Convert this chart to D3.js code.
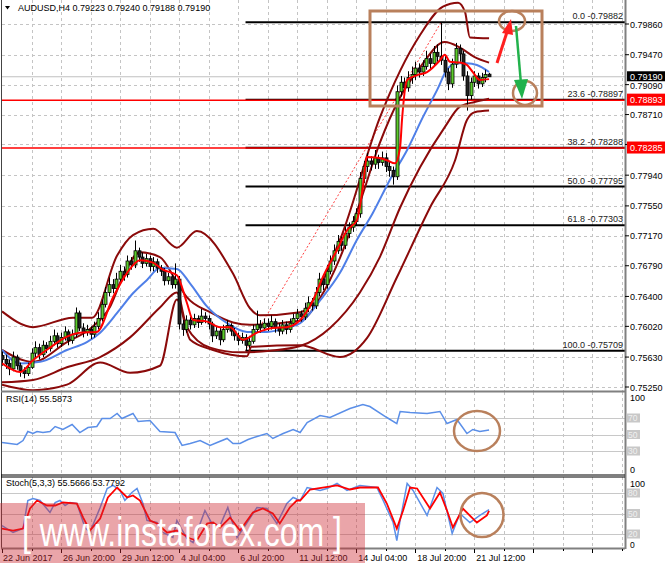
<!DOCTYPE html>
<html><head><meta charset="utf-8">
<script src="https://cdn.jsdelivr.net/npm/d3@7"></script>
<style>body{margin:0;background:#fff;} svg{display:block;font-family:"Liberation Sans",Arial,sans-serif;}</style>
</head><body><svg id="c" width="665" height="568"></svg>
<script>
// ---------------- DATA ----------------
const openP=[0.7565,0.7560,0.7555,0.7548,0.7563,0.7552,0.7546,0.7542,0.7550,0.7568,0.7575,0.7566,0.7578,
0.7574,0.7583,0.7590,0.7580,0.7588,0.7595,0.7584,0.7592,0.7619,0.7600,0.7594,0.7598,0.7592,
0.7602,0.7612,0.7630,0.7645,0.7655,0.7650,0.7662,0.7672,0.7668,0.7685,
0.7680,0.7698,0.7690,0.7682,0.7688,0.7678,0.7684,0.7676,0.7672,0.7660,
0.7665,0.7655,0.7662,0.7605,0.7598,0.7610,0.7604,0.7612,0.7607,0.7615,
0.7612,0.7605,0.7590,0.7596,0.7585,0.7598,0.7603,0.7596,0.7590,0.7584,
0.7588,0.7578,0.7583,0.7598,0.7604,0.7600,0.7606,0.7602,0.7608,0.7600,
0.7596,0.7604,0.7598,0.7606,0.7612,0.7618,0.7614,0.7625,0.7632,0.7628,
0.7645,0.7662,0.7655,0.7672,0.7685,0.7698,0.7710,0.7705,0.7720,0.7728,
0.7735,0.7745,0.7790,0.7805,0.7812,0.7808,0.7816,0.7810,0.7816,0.7805,
0.7800,0.7792,0.7900,0.7912,0.7905,0.7918,0.7922,0.7930,0.7925,0.7932,
0.7942,0.7936,0.7950,0.7945,0.7940,0.7925,0.7910,0.7935,0.7955,0.7948,
0.7920,0.7895,0.7912,0.7920,0.7910,0.7918,0.79223];
const closeP=[0.7560,0.7555,0.7548,0.7563,0.7552,0.7546,0.7542,0.7550,0.7568,0.7575,0.7566,0.7578,0.7574,
0.7583,0.7590,0.7580,0.7588,0.7595,0.7584,0.7592,0.7619,0.7600,0.7594,0.7598,0.7592,0.7602,
0.7612,0.7630,0.7645,0.7655,0.7650,0.7662,0.7672,0.7668,0.7685,0.7680,
0.7698,0.7690,0.7682,0.7688,0.7678,0.7684,0.7676,0.7672,0.7660,0.7665,
0.7655,0.7662,0.7605,0.7598,0.7610,0.7604,0.7612,0.7607,0.7615,0.7612,
0.7605,0.7590,0.7596,0.7585,0.7598,0.7603,0.7596,0.7590,0.7584,0.7588,
0.7578,0.7583,0.7598,0.7604,0.7600,0.7606,0.7602,0.7608,0.7600,0.7596,
0.7604,0.7598,0.7606,0.7612,0.7618,0.7614,0.7625,0.7632,0.7628,0.7645,
0.7662,0.7655,0.7672,0.7685,0.7698,0.7710,0.7705,0.7720,0.7728,0.7735,
0.7745,0.7790,0.7805,0.7812,0.7808,0.7816,0.7810,0.7816,0.7805,0.7800,
0.7792,0.7900,0.7912,0.7905,0.7918,0.7922,0.7930,0.7925,0.7932,0.7942,
0.7936,0.7950,0.7945,0.7940,0.7925,0.7910,0.7935,0.7955,0.7948,0.7920,
0.7895,0.7912,0.7920,0.7910,0.7918,0.7922,0.79190];
const highP=[0.7570,0.7566,0.7560,0.7570,0.7566,0.7556,0.7550,0.7556,0.7574,0.7583,0.7580,0.7584,0.7582,
0.7590,0.7598,0.7594,0.7594,0.7602,0.7598,0.7598,0.7626,0.7622,0.7606,0.7604,0.7602,0.7608,
0.7620,0.7636,0.7652,0.7664,0.7662,0.7670,0.7680,0.7678,0.7692,0.7690,
0.7711,0.7702,0.7696,0.7694,0.7692,0.7690,0.7688,0.7680,0.7676,0.7670,
0.7668,0.7682,0.7666,0.7610,0.7616,0.7614,0.7618,0.7616,0.7624,0.7620,
0.7616,0.7608,0.7602,0.7600,0.7604,0.7610,0.7606,0.7600,0.7594,0.7594,
0.7592,0.7590,0.7604,0.7622,0.7610,0.7612,0.7612,0.7616,0.7612,0.7606,
0.7610,0.7608,0.7612,0.7618,0.7624,0.7622,0.7632,0.7640,0.7638,0.7652,
0.7670,0.7668,0.7680,0.7692,0.7706,0.7718,0.7716,0.7728,0.7734,0.7742,
0.7752,0.7798,0.7812,0.7822,0.7818,0.7826,0.7820,0.7824,0.7822,0.7812,
0.7805,0.7908,0.7920,0.7918,0.7926,0.7932,0.7938,0.7936,0.7940,0.7952,
0.7948,0.7958,0.7960,0.79882,0.7946,0.7930,0.7942,0.7962,0.7960,0.7952,
0.7926,0.7918,0.7926,0.7924,0.7924,0.7928,0.79240];
const lowP=[0.7552,0.7548,0.7540,0.7545,0.7547,0.7538,0.7536,0.7539,0.7548,0.7562,0.7560,0.7563,0.7568,
0.7570,0.7578,0.7575,0.7576,0.7584,0.7578,0.7580,0.7588,0.7596,0.7588,0.7590,0.7586,0.7588,
0.7598,0.7608,0.7626,0.7640,0.7644,0.7646,0.7656,0.7660,0.7664,0.7674,
0.7676,0.7684,0.7676,0.7678,0.7672,0.7672,0.7670,0.7666,0.7654,0.7655,
0.7650,0.7650,0.7598,0.7590,0.7594,0.7598,0.7600,0.7600,0.7604,0.7606,
0.7598,0.7582,0.7586,0.7578,0.7582,0.7594,0.7590,0.7584,0.7578,0.7580,
0.7571,0.7574,0.7580,0.7594,0.7594,0.7596,0.7596,0.7598,0.7594,0.7590,
0.7592,0.7592,0.7594,0.7602,0.7608,0.7608,0.7610,0.7620,0.7622,0.7624,
0.7640,0.7648,0.7650,0.7668,0.7680,0.7694,0.7698,0.7700,0.7714,0.7722,
0.7730,0.7740,0.7784,0.7798,0.7800,0.7802,0.7802,0.7806,0.7798,0.7792,
0.7782,0.7788,0.7894,0.7896,0.7900,0.7910,0.7915,0.7918,0.7920,0.7928,
0.7928,0.7932,0.7938,0.7934,0.7918,0.7902,0.7905,0.7930,0.7938,0.7914,
0.7876,0.7890,0.7906,0.7904,0.7906,0.7912,0.79188];

// moving averages / bands: [bar index, price]
const maFast=[[0,0.7555],[4.9,0.7544],[8.4,0.7559],[13,0.7575],[17.6,0.7589],[21.1,0.7594],[25.7,0.7595],[30.1,0.7639],[33.9,0.7670],[37.4,0.7686],[40.9,0.7683],[43.6,0.7674],[47.4,0.7667],[50.1,0.7632],[51.8,0.7610],[55.6,0.7608],[59.1,0.7601],[61.8,0.7601],[65.3,0.7585],[69.1,0.7594],[73.4,0.7600],[77.2,0.7601],[80.8,0.7610],[84.3,0.7635],[87,0.7665],[90.8,0.7699],[93.5,0.7724],[96.2,0.7737],[97.8,0.7779],[98.9,0.7817],[101.9,0.7816],[104.3,0.7813],[106.5,0.7809],[107.9,0.7830],[108.4,0.7864],[109.8,0.7915],[112.5,0.7921],[115.2,0.7925],[118.7,0.7940],[120,0.7947],[121.4,0.7938],[124.1,0.7937],[126,0.7934],[127.6,0.7925],[129.5,0.7915],[132,0.7916]];
const maSlow=[[0,0.7572],[4.9,0.7555],[10.3,0.7557],[17.6,0.7572],[23,0.7582],[26.6,0.7594],[31.2,0.7619],[35.5,0.7644],[39.3,0.7661],[42.8,0.7676],[47.4,0.7675],[50.9,0.7657],[55.6,0.7627],[61,0.7606],[66.4,0.7595],[71.8,0.7595],[77.2,0.7600],[80.8,0.7606],[86.2,0.7635],[91.6,0.7670],[96.2,0.7712],[100.5,0.7746],[105.1,0.7788],[109.8,0.7826],[114.1,0.7868],[117.9,0.7902],[120.6,0.7928],[123.3,0.7936],[126,0.7936],[128.7,0.7934],[132,0.7925]];
const bandOuterUp=[[0,0.7621],[8.4,0.7601],[19.2,0.7613],[24.4,0.7613],[31.2,0.7692],[35.5,0.7718],[41,0.7726],[47.4,0.7702],[52.8,0.7723],[62.6,0.7669],[67.2,0.7625],[69.9,0.7616],[80.8,0.7620],[91.6,0.7712],[102.4,0.7867],[113.3,0.7972],[119.5,0.8008],[123.6,0.8013],[125.5,0.8001],[126.8,0.7969],[132,0.7968]];
const bandInnerUp=[[0,0.7572],[8.4,0.7557],[17.6,0.7582],[24.4,0.7601],[29.3,0.7627],[33.3,0.7671],[37.4,0.7696],[42.8,0.7690],[47.4,0.7658],[50.1,0.7639],[56.4,0.7620],[62.6,0.7607],[67.2,0.7604],[80.8,0.7609],[86.2,0.7638],[91.6,0.7689],[97,0.7759],[102.4,0.7835],[107.9,0.7893],[113.3,0.7931],[120,0.7963],[124.1,0.7956],[128.1,0.7944],[132,0.7937]];
const bandInnerLow=[[0,0.7531],[8.4,0.7534],[17.6,0.7550],[26.6,0.7563],[34.7,0.7588],[42.8,0.7626],[47.4,0.7645],[50.1,0.7601],[56.4,0.7575],[64.5,0.7569],[72.6,0.7571],[80.8,0.7577],[88.9,0.7600],[97,0.7645],[102.4,0.7690],[107.9,0.7753],[113.3,0.7804],[120,0.7855],[124.1,0.7881],[128.1,0.7887],[132,0.7891]];
const bandOuterLow=[[0,0.7528],[8.4,0.7521],[17.6,0.7528],[26.6,0.7556],[34.7,0.7543],[42.8,0.7552],[47.4,0.7636],[51,0.7585],[57.2,0.7572],[62,0.7566],[66.4,0.7564],[67.6,0.7576],[80.8,0.7578],[91.6,0.7563],[98.9,0.7587],[107,0.7664],[116,0.7753],[122.8,0.7813],[126,0.7864],[128.1,0.7874],[132,0.7876]];

const rsi=[[0,40.3],[4.1,37.9],[5.7,42.7],[7,53.6],[8.4,51.2],[9.5,53.6],[11.1,52.4],[13,53.6],[14.4,59.7],[16.5,56.1],[19,62.1],[21.1,52.4],[23.3,58.5],[25.7,59.7],[27.1,69.4],[29.3,69.4],[31.2,75.5],[32.5,69.4],[35.5,75.5],[36.9,65.8],[40.1,67],[42.8,53.6],[46.9,52.4],[48.8,36.7],[51,39.1],[53.7,42.7],[56.4,36.7],[58.3,40.3],[61,45.2],[62.6,39.1],[64.5,39.1],[66.7,43.9],[69.1,47.6],[71.8,51.2],[73.4,45.2],[76.2,51.2],[78.9,56.1],[80.8,52.4],[82.7,64.5],[86.2,73],[88.9,70.6],[94.3,81.5],[97.8,86.4],[99.7,83.9],[104.3,70.6],[107,63.3],[107.9,77.9],[110.6,76.7],[115.2,75.5],[118.7,77.9],[120.6,63.3],[123.3,68.2],[126,51.2],[127.6,56.1],[129.5,53.6],[132,55.59]];
const stochK=[[0,32.4],[3,22.2],[5.7,28],[7,69],[8.4,72],[10.3,69],[13,51.5],[14.4,66],[15.7,69],[17.1,61.7],[18.4,66.1],[20.3,64.6],[22.5,29.5],[23.8,22.2],[26.6,58.8],[28.5,86.6],[30.1,91],[32,83.7],[33.3,69],[35.2,80.7],[36.6,86.6],[38.2,64.6],[39.3,39.8],[42,36.8],[43.6,22.2],[46.3,14.9],[47.4,39.8],[50.1,13.4],[51.8,7.5],[55,54.4],[56.9,35.4],[59.1,32.4],[61.2,58.8],[63.7,14.9],[65.9,32.4],[69.1,58.8],[71.8,57.3],[74.5,35.4],[77.2,64.6],[78.9,73.4],[80.8,69],[82.7,88],[86.2,83.7],[88.1,86.6],[90.8,93.9],[93.5,83.7],[97,91],[101.6,88],[103.3,69],[106,36.8],[107,10.5],[107.9,39.8],[109.8,93.9],[111.4,83.7],[115.2,47.1],[117.9,88],[119.5,79.3],[122,20.7],[124.1,50],[126.8,36.8],[129.5,47.1],[132,55.57]];
const stochD=[[0,28],[3,25.1],[5.7,28],[7.6,57.3],[9.5,69],[12.2,61.7],[14.4,61.7],[16.5,66.1],[20.3,64.6],[22,44.1],[23.8,25.1],[26.6,42.7],[28.7,73.4],[31.2,88],[33.9,73.4],[35.5,76.4],[37.4,69],[40.1,39.8],[42,35.4],[44.7,22.2],[47.4,25.1],[51,13.4],[52.8,10.5],[55.6,35.4],[57.2,36.8],[59.1,29.5],[61.8,44.1],[64.5,25.1],[68,51.5],[70.7,57.3],[73.4,50],[75.3,35.4],[78,58.8],[79.9,69],[80.8,69],[83.5,85.1],[90.8,91],[94.3,85.1],[97,88],[101.9,88],[104.3,64.6],[107,28],[108.7,54.4],[110.6,88],[112.5,86.6],[116,57.3],[118.7,80.7],[120.6,54.4],[122.2,29.5],[124.9,57.3],[128.7,36.8],[131.4,47.1],[132,53.78]];

const priceTicks=[0.79860,0.79470,0.79090,0.78710,0.78330,0.77940,0.77550,0.77170,0.76790,0.76400,0.76020,0.75630,0.75250];
const hiddenTickLabels=[0.78330];
const timeLabels=["22 Jun 2017","26 Jun 20:00","29 Jun 12:00","4 Jul 04:00","6 Jul 20:00","11 Jul 12:00","14 Jul 04:00","18 Jul 20:00","21 Jul 12:00"];
const timeLabelBars=[0,16,32,48,64,80,96,112,128];
const fibLevels=["0.0","23.6","38.2","50.0","61.8","100.0"];
const fibPrices=[0.79882,0.78897,0.78288,0.77795,0.77303,0.75709];
const fibStartBar=66, fibHighBar=119;
const redLevels=[0.78893,0.78285];
const bidPrice=0.79190;
const rsiLevels=[70,50,30], stochLevels=[80,50,20];

// ---------------- SCALES ----------------
const svg=d3.select('#c');
const XR=625;
const x=d3.scaleLinear().domain([0,128]).range([2,474.3]);
const y=d3.scaleLinear().domain([0.75250,0.79860]).range([387,24]);
const yR=d3.scaleLinear().domain([0,100]).range([475.75,393.25]);
const yS=d3.scaleLinear().domain([0,100]).range([547.7,479.3]);
const panels=[{id:'pm',t:0,b:391},{id:'pr',t:392,b:475},{id:'ps',t:477,b:548}];
const defs=svg.append('defs');
panels.forEach(p=>defs.append('clipPath').attr('id',p.id).append('rect').attr('x',2).attr('y',p.t).attr('width',XR-2).attr('height',p.b-p.t));

// grids
const gridBars=d3.range(8,170,8);
panels.forEach(p=>{
  svg.append('g').selectAll('line').data(gridBars.filter(b=>x(b)<XR-1)).join('line')
   .attr('x1',d=>Math.round(x(d))+0.5).attr('x2',d=>Math.round(x(d))+0.5).attr('y1',p.t).attr('y2',p.b)
   .attr('stroke','#c4c4c4').attr('stroke-dasharray','3,3');
});
svg.append('g').selectAll('line').data(priceTicks).join('line')
  .attr('x1',2).attr('x2',XR).attr('y1',d=>Math.round(y(d))+0.5).attr('y2',d=>Math.round(y(d))+0.5)
  .attr('stroke','#c4c4c4').attr('stroke-dasharray','3,3');
svg.append('g').selectAll('line').data(rsiLevels).join('line')
  .attr('x1',2).attr('x2',XR).attr('y1',d=>Math.round(yR(d))+0.5).attr('y2',d=>Math.round(yR(d))+0.5).attr('stroke','#c8c8c8');
svg.append('g').selectAll('line').data(stochLevels).join('line')
  .attr('x1',2).attr('x2',XR).attr('y1',d=>Math.round(yS(d))+0.5).attr('y2',d=>Math.round(yS(d))+0.5).attr('stroke','#c8c8c8');

// main panel content
const gm=svg.append('g').attr('clip-path','url(#pm)');
gm.append('line').attr('x1',2).attr('x2',XR).attr('y1',y(bidPrice)).attr('y2',y(bidPrice)).attr('stroke','#c0c0c0');
gm.append('line').attr('x1',x(fibStartBar)).attr('y1',y(fibPrices[5])).attr('x2',x(fibHighBar)).attr('y2',y(fibPrices[0]))
  .attr('stroke','#ff4040').attr('stroke-width',1).attr('stroke-dasharray','2,2');
gm.append('g').selectAll('line').data(fibPrices).join('line')
  .attr('x1',x(fibStartBar)).attr('x2',XR).attr('y1',d=>y(d)).attr('y2',d=>y(d)).attr('stroke','#000').attr('stroke-width',2);
gm.append('g').selectAll('text').data(fibPrices).join('text')
  .attr('x',XR-2).attr('y',d=>y(d)-3).attr('text-anchor','end').attr('font-size',9).attr('fill','#222')
  .text((d,i)=>fibLevels[i]+' -'+d.toFixed(5));
gm.append('g').selectAll('line').data(redLevels).join('line')
  .attr('x1',2).attr('x2',XR).attr('y1',d=>y(d)).attr('y2',d=>y(d)).attr('stroke','#ff0000').attr('stroke-width',1.5);

const lineM=d3.line().x(d=>x(d[0])).y(d=>y(d[1])).curve(d3.curveMonotoneX);
[bandOuterUp,bandInnerUp,bandInnerLow,bandOuterLow].forEach(b=>gm.append('path').attr('d',lineM(b)).attr('fill','none').attr('stroke','#8b0a0a').attr('stroke-width',2));
gm.append('path').attr('d',lineM(maSlow)).attr('fill','none').attr('stroke','#4f7fe8').attr('stroke-width',2);

// candles
const idx=d3.range(closeP.length);
const gc=gm.append('g');
gc.selectAll('line').data(idx).join('line')
  .attr('x1',i=>Math.round(x(i))+0.5).attr('x2',i=>Math.round(x(i))+0.5)
  .attr('y1',i=>y(highP[i])).attr('y2',i=>y(lowP[i])).attr('stroke','#000');
gc.selectAll('rect').data(idx).join('rect')
  .attr('x',i=>Math.round(x(i))-1).attr('width',3)
  .attr('y',i=>y(Math.max(openP[i],closeP[i]))).attr('height',i=>Math.max(1,Math.abs(y(openP[i])-y(closeP[i]))))
  .attr('fill',i=>closeP[i]>=openP[i]?'#5ccc2c':'#222').attr('stroke','#000').attr('stroke-width',0.8);
gm.append('path').attr('d',lineM(maFast)).attr('fill','none').attr('stroke','#ff0000').attr('stroke-width',2);

// annotations
const brown='#b9805c';
gm.append('rect').attr('x',370).attr('y',11).attr('width',172).attr('height',95).attr('fill','none').attr('stroke',brown).attr('stroke-width',3);
gm.append('ellipse').attr('cx',512).attr('cy',21).attr('rx',13).attr('ry',10).attr('fill','none').attr('stroke',brown).attr('stroke-width',2.5);
gm.append('ellipse').attr('cx',525).attr('cy',93).attr('rx',12).attr('ry',12).attr('fill','none').attr('stroke',brown).attr('stroke-width',2.5);
gm.append('line').attr('x1',497).attr('y1',63).attr('x2',507).attr('y2',32).attr('stroke','#ff2020').attr('stroke-width',3);
gm.append('path').attr('d','M511,19 L502,33 L513,35 Z').attr('fill','#ff2020');
gm.append('line').attr('x1',516).attr('y1',26).attr('x2',521).attr('y2',84).attr('stroke','#22b24c').attr('stroke-width',2.5);
gm.append('path').attr('d','M522,99 L514,80 L528,79 Z').attr('fill','#22b24c');

// RSI
const gr=svg.append('g').attr('clip-path','url(#pr)');
gr.append('path').attr('d',d3.line().x(d=>x(d[0])).y(d=>yR(d[1]))(rsi)).attr('fill','none').attr('stroke','#5b8fe8').attr('stroke-width',1.5);
gr.append('ellipse').attr('cx',477).attr('cy',431).attr('rx',23).attr('ry',20).attr('fill','none').attr('stroke',brown).attr('stroke-width',2.5);

// Stoch
const gs=svg.append('g').attr('clip-path','url(#ps)');
gs.append('path').attr('d',d3.line().x(d=>x(d[0])).y(d=>yS(d[1]))(stochK)).attr('fill','none').attr('stroke','#5b8fe8').attr('stroke-width',1.5);
gs.append('path').attr('d',d3.line().x(d=>x(d[0])).y(d=>yS(d[1]))(stochD)).attr('fill','none').attr('stroke','#ff0000').attr('stroke-width',1.8);
gs.append('ellipse').attr('cx',482).attr('cy',515).attr('rx',21.5).attr('ry',22).attr('fill','none').attr('stroke',brown).attr('stroke-width',2.5);

// frames
svg.append('line').attr('x1',1.5).attr('x2',1.5).attr('y1',0).attr('y2',549).attr('stroke','#444');
svg.append('line').attr('x1',XR+0.5).attr('x2',XR+0.5).attr('y1',0).attr('y2',549).attr('stroke','#808080').attr('stroke-width',2);
svg.append('line').attr('x1',1).attr('x2',XR).attr('y1',391.5).attr('y2',391.5).attr('stroke','#808080').attr('stroke-width',2);
svg.append('line').attr('x1',1).attr('x2',XR).attr('y1',475).attr('y2',475).attr('stroke','#000');
svg.append('line').attr('x1',1).attr('x2',XR).attr('y1',477).attr('y2',477).attr('stroke','#000');
svg.append('line').attr('x1',1).attr('x2',XR).attr('y1',548.5).attr('y2',548.5).attr('stroke','#808080').attr('stroke-width',2);

// right axis
const ax=svg.append('g').attr('font-size',9).attr('fill','#000');
ax.selectAll('line').data(priceTicks).join('line').attr('x1',XR).attr('x2',XR+4).attr('y1',d=>y(d)).attr('y2',d=>y(d)).attr('stroke','#000');
ax.selectAll('text').data(priceTicks.filter(p=>!hiddenTickLabels.includes(p))).join('text')
  .attr('x',630).attr('y',d=>y(d)+(d===0.79090?4.5:3.5)).text(d=>d.toFixed(5));
function tag(p,bg,h){const yy=y(p);svg.append('rect').attr('x',627).attr('y',yy-h/2-0.5).attr('width',38).attr('height',h).attr('fill',bg);
 svg.append('text').attr('x',630).attr('y',yy+3.2).attr('font-size',9).attr('fill','#fff').text(p.toFixed(5));}
redLevels.forEach(p=>tag(p,'#ff0000',12));
tag(bidPrice,'#000',10);
// sub axes
const subAx=svg.append('g').attr('font-size',9);
subAx.append('text').attr('x',630).attr('y',yR(100)+8).text(100);
subAx.append('text').attr('x',630).attr('y',yR(0)-3).text(0);
subAx.append('text').attr('x',630).attr('y',yS(100)+8).text(100);
subAx.append('text').attr('x',630).attr('y',yS(0)+0.5).attr('font-size',8.5).text(0);
function lvlTag(v,s){subAx.append('rect').attr('x',627).attr('y',s(v)-4.5).attr('width',13).attr('height',9).attr('fill','#c8c8c8');
 subAx.append('text').attr('x',628).attr('y',s(v)+3).attr('font-size',8.5).attr('fill','#f0f0f0').text(v);}
rsiLevels.forEach(v=>lvlTag(v,yR)); stochLevels.forEach(v=>lvlTag(v,yS));

// time axis
const tx=svg.append('g');
tx.selectAll('line.s').data(d3.range(0,170,8).filter(b=>x(b)<XR)).join('line').attr('x1',d=>Math.round(x(d))+0.5).attr('x2',d=>Math.round(x(d))+0.5)
  .attr('y1',549).attr('y2',d=>d%16==0?553:551).attr('stroke','#000');
tx.selectAll('text').data(timeLabels).join('text').attr('x',(d,i)=>x(timeLabelBars[i])+(i==0?1:2)).attr('y',561).attr('font-size',9).text(d=>d);

// titles
svg.append('path').attr('d','M5,6 L10,6 L7.5,9.5 Z').attr('fill','#000');
svg.append('text').attr('x',18).attr('y',11).attr('font-size',9).text('AUDUSD,H4  0.79223 0.79240 0.79188 0.79190');
svg.append('text').attr('x',6).attr('y',402).attr('font-size',9).text('RSI(14) 55.5873');
svg.append('text').attr('x',6).attr('y',486).attr('font-size',9).text('Stoch(5,3,3) 55.5666 53.7792');

// watermark
svg.append('rect').attr('x',0).attr('y',503).attr('width',365).attr('height',60).attr('fill','rgba(205,40,50,0.42)');
svg.append('text').attr('x',22).attr('y',546).attr('font-size',40).attr('fill','#fff').attr('textLength',320).attr('lengthAdjust','spacingAndGlyphs').text('[ www.instaforex.com ]');
</script></body></html>
